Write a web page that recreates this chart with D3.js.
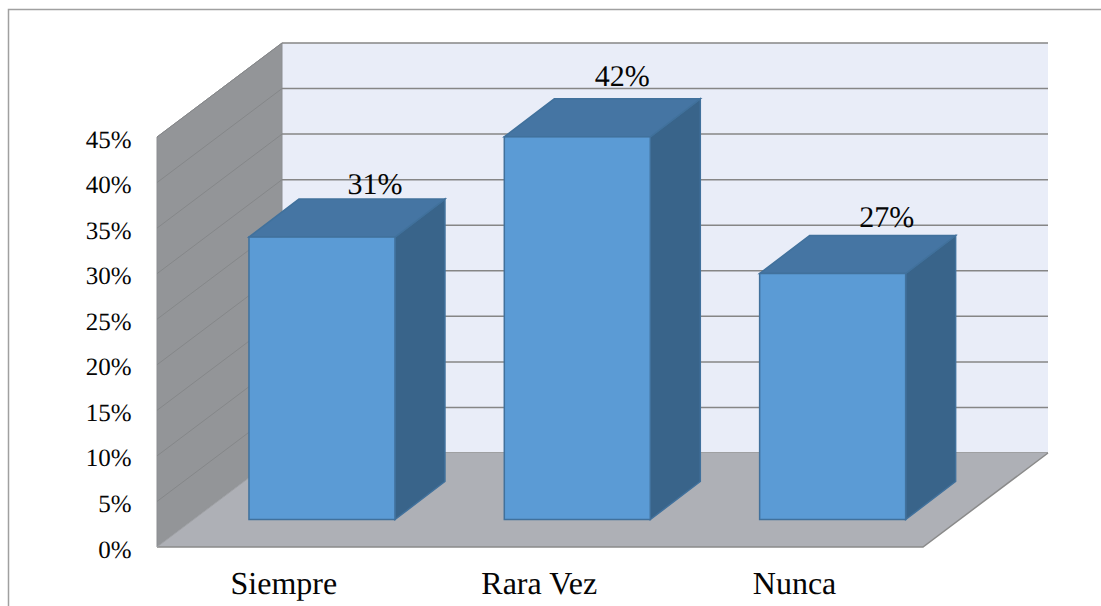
<!DOCTYPE html>
<html>
<head>
<meta charset="utf-8">
<script src="https://cdn.jsdelivr.net/npm/d3@7"></script>
<style>
  html, body { margin: 0; padding: 0; background: #fff; }
  svg { display: block; }
  text { font-family: "Liberation Serif", "Times New Roman", serif; fill: #050505; text-rendering: geometricPrecision; }
</style>
</head>
<body>
<div id="chart"></div>
<script>
// Chart data
const categories = ["Siempre", "Rara Vez", "Nunca"];
const percentages = [31, 42, 27];
const axisTicks = [0, 5, 10, 15, 20, 25, 30, 35, 40, 45];

const W = 1101, H = 606;

// Oblique projection of the 3D box
const floorFront = { left: 157, right: 923, y: 547 };
const boxDepth = { x: 125, y: -94 };
const barDepth = { x: 50, y: -38 };
const barInset = { x: 37.3, y: -27.5 };   // front of each bar sits this far into the floor
const barWidth = 146;

const colors = {
  wall: "#E9EDF8", side: "#939598", floor: "#AEB0B6",
  grid: "#868686", sideGrid: "#858789",
  barFront: "#5B9BD5", barTop: "#4575A3", barSide: "#39648A", barEdge: "#41719C",
  frame: "#A0A0A0"
};

const x = d3.scaleBand().domain(categories).range([floorFront.left, floorFront.right]);
const y = d3.scaleLinear().domain([0, 45]).range([floorFront.y, 137]);

const svg = d3.select("#chart").append("svg").attr("width", W).attr("height", H);
const poly = pts => pts.map(p => p.join(",")).join(" ");

// Outer chart frame: only the top and left edges fall inside the canvas
svg.append("path")
  .attr("d", d3.line()([[8.5, H], [8.5, 9.5], [W, 9.5]]))
  .attr("fill", "none").attr("stroke", colors.frame).attr("stroke-width", 1.5);

const L = floorFront.left, R = floorFront.right, F = floorFront.y;
const dx = boxDepth.x, dy = boxDepth.y;
const wallTop = y(45);

// Back wall
svg.append("polygon")
  .attr("points", poly([[L + dx, wallTop + dy], [R + dx, wallTop + dy], [R + dx, F + dy], [L + dx, F + dy]]))
  .attr("fill", colors.wall);

// Side wall
svg.append("polygon")
  .attr("points", poly([[L, wallTop], [L + dx, wallTop + dy], [L + dx, F + dy], [L, F]]))
  .attr("fill", colors.side).attr("stroke", "#8c8e91").attr("stroke-width", 1);

// Gridlines across both walls
const grid = svg.append("g").attr("fill", "none");
grid.selectAll("line.back").data(axisTicks).join("line")
  .attr("class", "back")
  .attr("x1", L + dx).attr("x2", R + dx)
  .attr("y1", d => y(d) + dy).attr("y2", d => y(d) + dy)
  .attr("stroke", colors.grid).attr("stroke-width", 1.5);
grid.selectAll("line.side").data(axisTicks.slice(1)).join("line")
  .attr("class", "side")
  .attr("x1", L).attr("x2", L + dx)
  .attr("y1", d => y(d)).attr("y2", d => y(d) + dy)
  .attr("stroke", colors.sideGrid).attr("stroke-width", 1);

// Floor
svg.append("polygon")
  .attr("points", poly([[L, F], [R, F], [R + dx, F + dy], [L + dx, F + dy]]))
  .attr("fill", colors.floor);
svg.append("path")
  .attr("d", d3.line()([[L, F], [R, F], [R + dx, F + dy]]))
  .attr("fill", "none").attr("stroke", "#8a8a8a").attr("stroke-width", 1.5);
svg.append("line")
  .attr("x1", L).attr("y1", F).attr("x2", L + dx).attr("y2", F + dy)
  .attr("stroke", "#a0a2a6").attr("stroke-width", 1);

// Bars: side face, top face, then front face
const bars = svg.append("g").selectAll("g").data(categories).join("g");
const frontLeft = c => x(c) + x.bandwidth() / 2 + barInset.x - barWidth / 2;
const barBottom = F + barInset.y;
const barTop = i => barBottom - (F - y(percentages[i]));

bars.append("polygon")
  .attr("points", (c, i) => {
    const xr = frontLeft(c) + barWidth, t = barTop(i);
    return poly([[xr, t], [xr + barDepth.x, t + barDepth.y], [xr + barDepth.x, barBottom + barDepth.y], [xr, barBottom]]);
  })
  .attr("fill", colors.barSide).attr("stroke", colors.barEdge).attr("stroke-width", 1.5);
bars.append("polygon")
  .attr("points", (c, i) => {
    const xl = frontLeft(c), t = barTop(i);
    return poly([[xl, t], [xl + barWidth, t], [xl + barWidth + barDepth.x, t + barDepth.y], [xl + barDepth.x, t + barDepth.y]]);
  })
  .attr("fill", colors.barTop).attr("stroke", colors.barEdge).attr("stroke-width", 1.5);
bars.append("rect")
  .attr("x", frontLeft)
  .attr("y", (c, i) => barTop(i))
  .attr("width", barWidth)
  .attr("height", (c, i) => barBottom - barTop(i))
  .attr("fill", colors.barFront).attr("stroke", colors.barEdge).attr("stroke-width", 1.5);

// Value labels above the bars, each hand-placed like a moved data label
const pct = d3.format(".0f");
const labelShiftX = [53, 45, 54];
const labelShiftY = [-43, -51, -47];
bars.append("text")
  .attr("x", (c, i) => frontLeft(c) + barWidth / 2 + labelShiftX[i])
  .attr("y", (c, i) => barTop(i) + labelShiftY[i])
  .attr("text-anchor", "middle")
  .attr("font-size", 30)
  .text((c, i) => pct(percentages[i]) + "%");

// Value axis
const yAxis = d3.axisLeft(y).tickValues(axisTicks).tickSize(0).tickPadding(25.5)
  .tickFormat(d => d + "%");
const yG = svg.append("g").attr("transform", `translate(${L},0)`).call(yAxis);
yG.select(".domain").remove();
yG.selectAll("text").attr("font-size", 25).style("font-family", '"Liberation Serif", serif').attr("dy", "0.4em");

// Category axis
const xAxis = d3.axisBottom(x).tickSize(0).tickPadding(24.5);
const xG = svg.append("g").attr("transform", `translate(-0.8,${F})`).call(xAxis);
xG.select(".domain").remove();
xG.selectAll("text").attr("font-size", 32).style("font-family", '"Liberation Serif", serif');
</script>
</body>
</html>
